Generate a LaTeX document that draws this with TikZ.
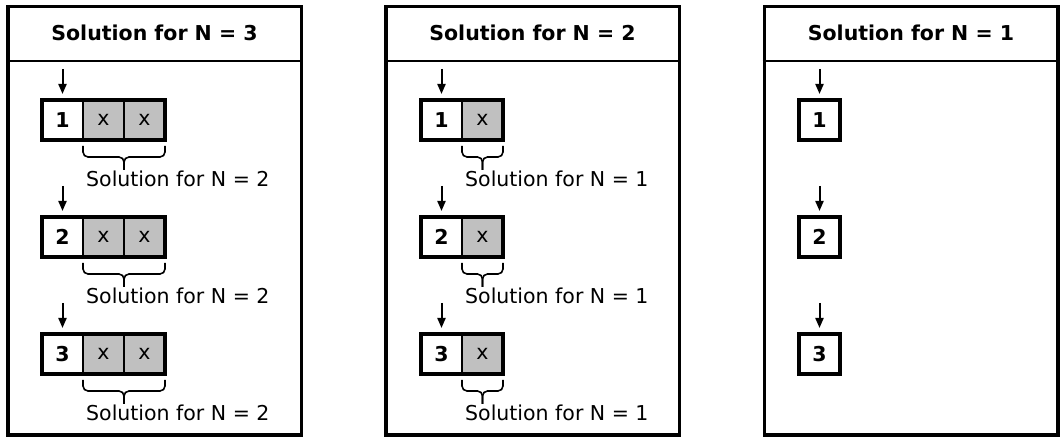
\documentclass[tikz,border=0pt]{standalone}
\usepackage{fontspec}
\setmainfont{DejaVu Sans}
\usetikzlibrary{positioning, fit, calc, arrows.meta}

\definecolor{cellgray}{RGB}{192,192,192}

% brace under the sub-solution cells
\newcommand{\solbrace}[2]{%
    \draw[bracket] ([yshift=-6pt]#1.south west) -- ++(0,11) -| ($(#1.south west)!.5!(#2.south east)+(0,30)$);
    \draw[bracket] ([yshift=-6pt]#2.south east) -- ++(0,11) -| ($(#1.south west)!.5!(#2.south east)+(0,30)$);}

\begin{document}
\begin{tikzpicture}[
                x=1pt, y=-1pt,
                node distance=0pt,
                panel/.style={rectangle, draw=black, line width=3.5pt, minimum width=293.5pt, minimum height=428.5pt},
                header/.style={font=\fontsize{20.5}{24}\selectfont\bfseries},
                numcell/.style={rectangle, draw=black, line width=1.5pt, fill=white, minimum width=41pt, minimum height=40pt, inner sep=0pt, outer sep=0pt, font=\fontsize{20.5}{22}\selectfont\bfseries},
                xcell/.style={numcell, fill=cellgray, font=\fontsize{20.5}{22}\selectfont},
                frame/.style={rectangle, draw=black, line width=4pt, inner sep=0pt},
                pointer/.style={line width=2pt, -{Triangle[length=10pt,width=8pt]}, shorten >=6pt},
                bracket/.style={line width=1.6pt, rounded corners=5pt},
                sollabel/.style={anchor=base west, inner sep=0pt, font=\fontsize{20.5}{24}\selectfont}
            ]%
            \useasboundingbox (0,0) rectangle (1061,443);
            %
            % Paneles
            \node[panel] (sol3) at (154.5,221) {};
            \node[panel] (sol2) at (532.5,221) {};
            \node[panel] (sol1) at (911,221) {};
            %
            % Cabeceras
            \node[header] (h3) at (154.5,33) {Solution for N = 3};
            \node[header] (h2) at (532.5,33) {Solution for N = 2};
            \node[header] (h1) at (911,33) {Solution for N = 1};
            \draw[line width=2pt] (sol3.west |- 0,61) -- (sol3.east |- 0,61);
            \draw[line width=2pt] (sol2.west |- 0,61) -- (sol2.east |- 0,61);
            \draw[line width=2pt] (sol1.west |- 0,61) -- (sol1.east |- 0,61);
            %
            % === N = 3 ===
            \node[numcell] (s3r1c1) at (62.5,120) {1};
            \node[xcell, right=of s3r1c1] (s3r1c2) {x};
            \node[xcell, right=of s3r1c2] (s3r1c3) {x};
            \node[frame, fit=(s3r1c1) (s3r1c3)] (s3r1) {};
            \draw[pointer] ([yshift=31pt]s3r1c1.north) -- (s3r1c1.north);
            \solbrace{s3r1c2}{s3r1c3}
            \node[sollabel] (l3r1) at ([xshift=3pt,yshift=-47pt]s3r1c2.south west) {Solution for N = 2};
            %
            \node[numcell] (s3r2c1) at (62.5,237) {2};
            \node[xcell, right=of s3r2c1] (s3r2c2) {x};
            \node[xcell, right=of s3r2c2] (s3r2c3) {x};
            \node[frame, fit=(s3r2c1) (s3r2c3)] (s3r2) {};
            \draw[pointer] ([yshift=31pt]s3r2c1.north) -- (s3r2c1.north);
            \solbrace{s3r2c2}{s3r2c3}
            \node[sollabel] (l3r2) at ([xshift=3pt,yshift=-47pt]s3r2c2.south west) {Solution for N = 2};
            %
            \node[numcell] (s3r3c1) at (62.5,354) {3};
            \node[xcell, right=of s3r3c1] (s3r3c2) {x};
            \node[xcell, right=of s3r3c2] (s3r3c3) {x};
            \node[frame, fit=(s3r3c1) (s3r3c3)] (s3r3) {};
            \draw[pointer] ([yshift=31pt]s3r3c1.north) -- (s3r3c1.north);
            \solbrace{s3r3c2}{s3r3c3}
            \node[sollabel] (l3r3) at ([xshift=3pt,yshift=-47pt]s3r3c2.south west) {Solution for N = 2};
            %
            % === N = 2 ===
            \node[numcell] (s2r1c1) at (441.5,120) {1};
            \node[xcell, right=of s2r1c1] (s2r1c2) {x};
            \node[frame, fit=(s2r1c1) (s2r1c2)] (s2r1) {};
            \draw[pointer] ([yshift=31pt]s2r1c1.north) -- (s2r1c1.north);
            \solbrace{s2r1c2}{s2r1c2}
            \node[sollabel] (l2r1) at ([xshift=3pt,yshift=-47pt]s2r1c2.south west) {Solution for N = 1};
            %
            \node[numcell] (s2r2c1) at (441.5,237) {2};
            \node[xcell, right=of s2r2c1] (s2r2c2) {x};
            \node[frame, fit=(s2r2c1) (s2r2c2)] (s2r2) {};
            \draw[pointer] ([yshift=31pt]s2r2c1.north) -- (s2r2c1.north);
            \solbrace{s2r2c2}{s2r2c2}
            \node[sollabel] (l2r2) at ([xshift=3pt,yshift=-47pt]s2r2c2.south west) {Solution for N = 1};
            %
            \node[numcell] (s2r3c1) at (441.5,354) {3};
            \node[xcell, right=of s2r3c1] (s2r3c2) {x};
            \node[frame, fit=(s2r3c1) (s2r3c2)] (s2r3) {};
            \draw[pointer] ([yshift=31pt]s2r3c1.north) -- (s2r3c1.north);
            \solbrace{s2r3c2}{s2r3c2}
            \node[sollabel] (l2r3) at ([xshift=3pt,yshift=-47pt]s2r3c2.south west) {Solution for N = 1};
            %
            % === N = 1 ===
            \node[numcell] (s1r1c1) at (819.5,120) {1};
            \node[frame, fit=(s1r1c1)] (s1r1) {};
            \draw[pointer] ([yshift=31pt]s1r1c1.north) -- (s1r1c1.north);
            %
            \node[numcell] (s1r2c1) at (819.5,237) {2};
            \node[frame, fit=(s1r2c1)] (s1r2) {};
            \draw[pointer] ([yshift=31pt]s1r2c1.north) -- (s1r2c1.north);
            %
            \node[numcell] (s1r3c1) at (819.5,354) {3};
            \node[frame, fit=(s1r3c1)] (s1r3) {};
            \draw[pointer] ([yshift=31pt]s1r3c1.north) -- (s1r3c1.north);
        \end{tikzpicture}
\end{document}
